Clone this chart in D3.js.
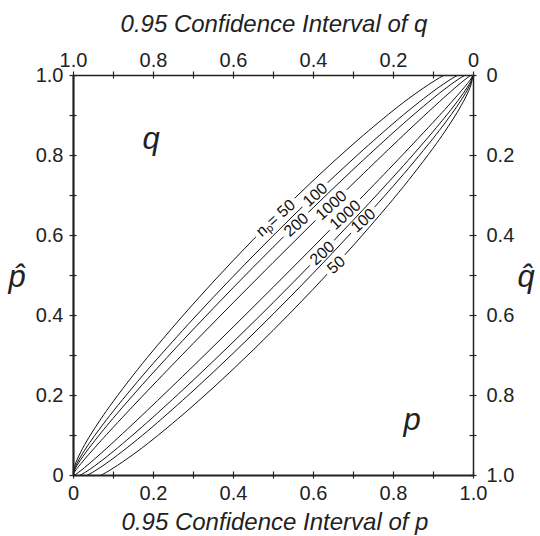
<!DOCTYPE html>
<html>
<head>
<meta charset="utf-8">
<script src="https://cdn.jsdelivr.net/npm/d3@7"></script>
<style>
  html, body { margin: 0; padding: 0; background: #fff; }
  svg { display: block; font-family: "Liberation Sans", Arial, Helvetica, sans-serif; }
</style>
</head>
<body>
<svg id="chart" width="540" height="536"></svg>
<script>
// ---------------- data ----------------
const pGrid = [0, 0.005, 0.01, 0.02, 0.04, 0.07, 0.1, 0.15, 0.2, 0.3, 0.4, 0.5, 0.6, 0.7, 0.8, 0.85, 0.9, 0.93, 0.96, 0.98, 0.99, 0.995, 1];

const upper50   = [0, 0.02455, 0.03758, 0.05881, 0.09432, 0.14073, 0.18316, 0.24898, 0.31088, 0.42703, 0.53580, 0.63860, 0.73580, 0.82703, 0.91088, 0.94898, 0.98316, 1.00073, 1.01432, 1.01881, 1.01758, 1.01455, 1];
const upper100  = [0, 0.01882, 0.02950, 0.04744, 0.07841, 0.12001, 0.15880, 0.21999, 0.27840, 0.38982, 0.49602, 0.59800, 0.69602, 0.78982, 0.87840, 0.91999, 0.95880, 0.98001, 0.99841, 1.00744, 1.00950, 1.00882, 1];
const upper200  = [0, 0.01477, 0.02379, 0.03940, 0.06716, 0.10536, 0.14158, 0.19949, 0.25544, 0.36351, 0.46790, 0.56930, 0.66790, 0.76351, 0.85544, 0.89949, 0.94158, 0.96536, 0.98716, 0.99940, 1.00379, 1.00477, 1];
const upper1000 = [0, 0.00937, 0.01617, 0.02868, 0.05215, 0.08581, 0.11859, 0.17213, 0.22479, 0.32840, 0.43036, 0.53099, 0.63036, 0.72840, 0.82479, 0.87213, 0.91859, 0.94581, 0.97215, 0.98868, 0.99617, 0.99937, 1];

const lower50   = [0, -0.01455, -0.01758, -0.01881, -0.01432, -0.00073, 0.01684, 0.05102, 0.08912, 0.17297, 0.26420, 0.36140, 0.46420, 0.57297, 0.68912, 0.75102, 0.81684, 0.85927, 0.90568, 0.94119, 0.96242, 0.97545, 1];
const lower100  = [0, -0.00882, -0.00950, -0.00744, 0.00159, 0.01999, 0.04120, 0.08001, 0.12160, 0.21018, 0.30398, 0.40200, 0.50398, 0.61018, 0.72160, 0.78001, 0.84120, 0.87999, 0.92159, 0.95256, 0.97050, 0.98118, 1];
const lower200  = [0, -0.00477, -0.00379, 0.00060, 0.01284, 0.03464, 0.05842, 0.10051, 0.14456, 0.23649, 0.33210, 0.43070, 0.53210, 0.63649, 0.74456, 0.80051, 0.85842, 0.89464, 0.93284, 0.96060, 0.97621, 0.98523, 1];
const lower1000 = [0, 0.00063, 0.00383, 0.01132, 0.02785, 0.05419, 0.08141, 0.12787, 0.17521, 0.27160, 0.36964, 0.46901, 0.56964, 0.67160, 0.77521, 0.82787, 0.88141, 0.91419, 0.94785, 0.97132, 0.98383, 0.99063, 1];

const sampleSizes = [50, 100, 200, 1000];
const upperSeries = [upper50, upper100, upper200, upper1000];
const lowerSeries = [lower50, lower100, lower200, lower1000];

// curve label positions (p, p-hat)
const upperLabelP    = [0.505, 0.605, 0.5575, 0.645];
const upperLabelPhat = [0.644, 0.701, 0.626, 0.675];
const lowerLabelP    = [0.6575, 0.725, 0.6225, 0.68];
const lowerLabelPhat = [0.526, 0.637, 0.555, 0.651];

const tickValues = [0, 0.1, 0.2, 0.3, 0.4, 0.5, 0.6, 0.7, 0.8, 0.9, 1.0];
const tickLabels = {0: "0", 0.2: "0.2", 0.4: "0.4", 0.6: "0.6", 0.8: "0.8", 1: "1.0"};

const titleTop = "0.95 Confidence Interval of q";
const titleBottom = "0.95 Confidence Interval of p";

// ---------------- layout ----------------
const L = 73, R = 473, T = 75, B = 475;
const svg = d3.select("#chart");

const x = d3.scaleLinear().domain([0, 1]).range([L, R]);
const y = d3.scaleLinear().domain([0, 1]).range([B, T]);
const xq = d3.scaleLinear().domain([1, 0]).range([L, R]);
const yq = d3.scaleLinear().domain([1, 0]).range([B, T]);

const fmt = v => {
  const k = Math.round(v * 10) / 10;
  return tickLabels[k] !== undefined ? tickLabels[k] : "";
};

const defs = svg.append("defs");
defs.append("clipPath").attr("id", "plotclip")
  .append("rect").attr("x", L).attr("y", T).attr("width", R - L).attr("height", B - T);

// ---------------- curve labels (measure first) ----------------
const ANG = -42;
const labelLayer = svg.append("g").attr("class", "curve-labels")
  .attr("font-size", 16).attr("fill", "#111");

function addLabel(px, py, n, withPrefix) {
  const t = labelLayer.append("text")
    .attr("text-anchor", "middle")
    .attr("dominant-baseline", "central")
    .attr("transform", `translate(${x(px)},${y(py)}) rotate(${ANG})`);
  if (withPrefix) {
    t.append("tspan").text("n");
    t.append("tspan").attr("font-size", 11).attr("dy", 4).text("p");
    t.append("tspan").attr("dy", -4).text("= " + n);
  } else {
    t.text(String(n));
  }
  return t;
}

const maskInfo = [];
sampleSizes.forEach((n, i) => {
  const tu = addLabel(upperLabelP[i], upperLabelPhat[i], n, i === 0);
  maskInfo.push({ key: "u" + i, px: upperLabelP[i], py: upperLabelPhat[i], w: tu.node().getComputedTextLength() });
  const tl = addLabel(lowerLabelP[i], lowerLabelPhat[i], n, false);
  maskInfo.push({ key: "l" + i, px: lowerLabelP[i], py: lowerLabelPhat[i], w: tl.node().getComputedTextLength() });
});

maskInfo.forEach(m => {
  const mk = defs.append("mask").attr("id", "mask-" + m.key).attr("maskUnits", "userSpaceOnUse")
    .attr("x", 0).attr("y", 0).attr("width", 540).attr("height", 536);
  mk.append("rect").attr("x", 0).attr("y", 0).attr("width", 540).attr("height", 536).attr("fill", "#fff");
  mk.append("rect")
    .attr("x", -m.w / 2 - 4).attr("y", -8).attr("width", m.w + 8).attr("height", 16)
    .attr("fill", "#000")
    .attr("transform", `translate(${x(m.px)},${y(m.py)}) rotate(${ANG})`);
});

// ---------------- curves ----------------
const line = d3.line()
  .x((d, i) => x(pGrid[i]))
  .y(d => y(d))
  .curve(d3.curveCatmullRom.alpha(0.5));

const curveLayer = svg.insert("g", ".curve-labels").attr("clip-path", "url(#plotclip)");
sampleSizes.forEach((n, i) => {
  curveLayer.append("path")
    .attr("d", line(upperSeries[i]))
    .attr("fill", "none").attr("stroke", "#111").attr("stroke-width", 1)
    .attr("mask", "url(#mask-u" + i + ")");
  curveLayer.append("path")
    .attr("d", line(lowerSeries[i]))
    .attr("fill", "none").attr("stroke", "#111").attr("stroke-width", 1)
    .attr("mask", "url(#mask-l" + i + ")");
});

// ---------------- axes ----------------
const TK = 3.5;
function styleAxis(g, orient, width) {
  g.select(".domain").attr("stroke", "#222").attr("stroke-width", width);
  g.selectAll(".tick line").attr("stroke", "#222").attr("stroke-width", 1.2);
  if (orient === "h") g.selectAll(".tick line").attr("y1", -TK).attr("y2", TK);
  else g.selectAll(".tick line").attr("x1", -TK).attr("x2", TK);
  g.selectAll(".tick text").attr("font-size", 20).attr("fill", "#222")
    .attr("font-family", '"Liberation Sans", Arial, Helvetica, sans-serif');
}

const axBottom = svg.append("g").attr("transform", `translate(0,${B})`)
  .call(d3.axisBottom(x).tickValues(tickValues).tickFormat(fmt).tickSize(TK).tickSizeOuter(0).tickPadding(7));
styleAxis(axBottom, "h", 1.8);

const axTop = svg.append("g").attr("transform", `translate(0,${T})`)
  .call(d3.axisTop(xq).tickValues(tickValues).tickFormat(fmt).tickSize(TK).tickSizeOuter(0).tickPadding(5));
styleAxis(axTop, "h", 1.3);

const axLeft = svg.append("g").attr("transform", `translate(${L},0)`)
  .call(d3.axisLeft(y).tickValues(tickValues).tickFormat(fmt).tickSize(TK).tickSizeOuter(0).tickPadding(6));
styleAxis(axLeft, "v", 2.2);

const axRight = svg.append("g").attr("transform", `translate(${R},0)`)
  .call(d3.axisRight(yq).tickValues(tickValues).tickFormat(fmt).tickSize(TK).tickSizeOuter(0).tickPadding(10));
styleAxis(axRight, "v", 1.5);

// ---------------- titles ----------------
const ital = '"Liberation Sans", Arial, Helvetica, sans-serif';
svg.append("text").attr("x", 274).attr("y", 32).attr("text-anchor", "middle")
  .attr("font-size", 24).attr("font-style", "italic").attr("fill", "#222").attr("font-family", ital)
  .text(titleTop);
svg.append("text").attr("x", 275).attr("y", 530).attr("text-anchor", "middle")
  .attr("font-size", 24).attr("font-style", "italic").attr("fill", "#222").attr("font-family", ital)
  .text(titleBottom);

// axis symbols p-hat and q-hat (single text with combining circumflex)
svg.append("text").attr("x", 17).attr("y", 287).attr("text-anchor", "middle")
  .attr("font-size", 31).attr("font-style", "italic").attr("fill", "#222").attr("font-family", ital)
  .text("p\u0302");
svg.append("text").attr("x", 526).attr("y", 287).attr("text-anchor", "middle")
  .attr("font-size", 31).attr("font-style", "italic").attr("fill", "#222").attr("font-family", ital)
  .text("q\u0302");

// region letters
svg.append("text").attr("x", 151).attr("y", 149).attr("text-anchor", "middle")
  .attr("font-size", 31).attr("font-style", "italic").attr("fill", "#222").attr("font-family", ital).text("q");
svg.append("text").attr("x", 412).attr("y", 430).attr("text-anchor", "middle")
  .attr("font-size", 31).attr("font-style", "italic").attr("fill", "#222").attr("font-family", ital).text("p");
</script>
</body>
</html>
